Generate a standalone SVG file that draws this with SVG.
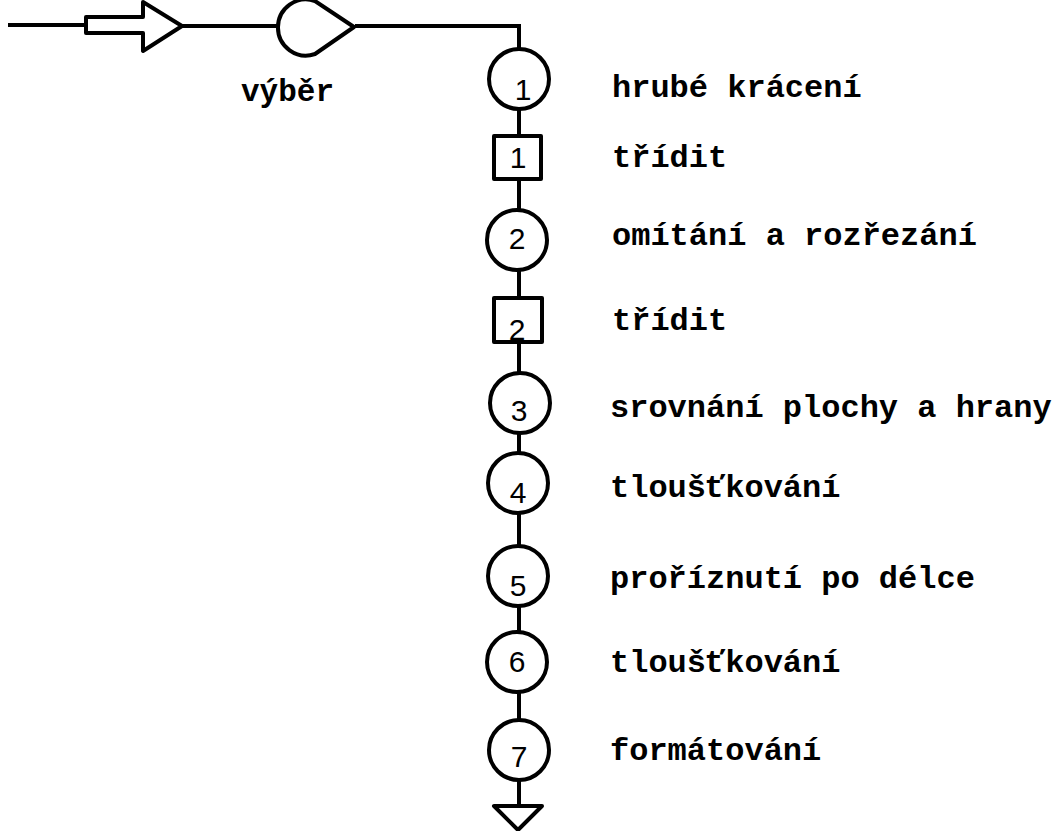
<svg xmlns="http://www.w3.org/2000/svg" width="1064" height="831" viewBox="0 0 1064 831">
<style>
.s{fill:#fff;stroke:#000;stroke-width:4;stroke-linejoin:round}
.c{stroke:#000;stroke-width:4;fill:none}
.n{font-family:"Liberation Sans",Arial,sans-serif;font-size:30px;text-anchor:middle;fill:#000}
.t{font-family:"Liberation Mono","Courier New",monospace;font-size:32px;font-weight:bold;fill:#000}
</style>
<rect width="1064" height="831" fill="#fff"/>
<g id="connectors">
<line class="c" x1="8" y1="25" x2="86" y2="25"/>
<line class="c" x1="182" y1="26" x2="290" y2="26"/>
<polyline class="c" points="355,26 519,26 519,48"/>
<line class="c" x1="519" y1="110" x2="519" y2="136"/>
<line class="c" x1="519" y1="179" x2="519" y2="210"/>
<line class="c" x1="519" y1="270" x2="519" y2="298"/>
<line class="c" x1="519" y1="342" x2="519" y2="373"/>
<line class="c" x1="519" y1="433" x2="519" y2="453"/>
<line class="c" x1="519" y1="513" x2="519" y2="547"/>
<line class="c" x1="519" y1="605" x2="519" y2="632"/>
<line class="c" x1="519" y1="692" x2="519" y2="720"/>
<line class="c" x1="519" y1="780" x2="519" y2="806"/>
</g>
<g id="input-arrow"><polygon class="s" points="86,17 143,17 143,2 182,26 143,51 143,33 86,33"/></g>
<g id="vyber"><path class="s" d="M315,1 A28,28 0 1 0 315,54 L354,27 Z"/><text class="t" x="241" y="101" style="font-size:31px">výběr</text></g>
<g id="op1"><circle class="s" cx="519" cy="79" r="30"/><text class="n" x="523" y="100">1</text><text class="t" x="612" y="97">hrubé krácení</text></g>
<g id="sort1"><rect class="s" x="494" y="136" width="47" height="43"/><text class="n" x="518" y="168">1</text><text class="t" x="612" y="167">třídit</text></g>
<g id="op2"><circle class="s" cx="517" cy="240" r="30"/><text class="n" x="517" y="249">2</text><text class="t" x="612" y="245">omítání a rozřezání</text></g>
<g id="sort2"><rect class="s" x="494" y="298" width="48" height="44"/><text class="n" x="517" y="340">2</text><text class="t" x="612" y="330">třídit</text></g>
<g id="op3"><circle class="s" cx="520" cy="403" r="30"/><text class="n" x="519" y="421">3</text><text class="t" x="610" y="417">srovnání plochy a hrany</text></g>
<g id="op4"><circle class="s" cx="518" cy="483" r="30"/><text class="n" x="518" y="503">4</text><text class="t" x="610" y="497">tloušťkování</text></g>
<g id="op5"><circle class="s" cx="518" cy="576" r="30"/><text class="n" x="518" y="596">5</text><text class="t" x="610" y="588">proříznutí po délce</text></g>
<g id="op6"><circle class="s" cx="517" cy="662" r="30"/><text class="n" x="517" y="672">6</text><text class="t" x="610" y="672">tloušťkování</text></g>
<g id="op7"><circle class="s" cx="519" cy="750" r="30"/><text class="n" x="519" y="767">7</text><text class="t" x="610" y="760">formátování</text></g>
<g id="end"><polygon class="s" points="494,806 542,806 518,830"/></g>
</svg>
